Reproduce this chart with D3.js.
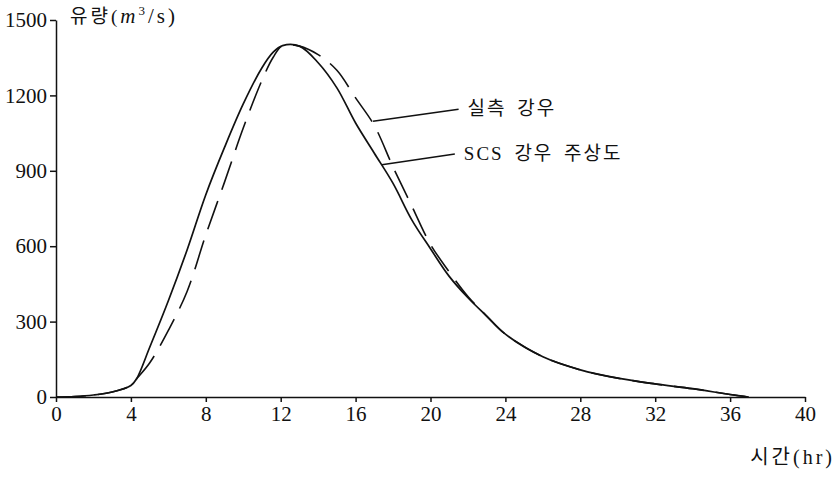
<!DOCTYPE html>
<html>
<head>
<meta charset="utf-8">
<script src="https://cdn.jsdelivr.net/npm/d3@7"></script>
<style>
  body { margin: 0; background: #fff; }
  .axis path, .axis line { stroke: #111; stroke-width: 1.5; }
  .axis text { font-family: "Liberation Serif", serif; font-size: 21px; fill: #111; }
</style>
</head>
<body>
<svg id="chart"></svg>
<script>
// time (hr) and discharge (m3/s)
var hours = [0, 1, 2, 3, 4, 4.3, 5, 6, 7, 8, 9, 10, 11, 11.6, 12.1, 13, 14, 15, 16, 17, 18, 19, 20, 21, 22, 23, 24, 26, 28, 30, 32, 34, 36, 37];
// SCS 강우 주상도 (solid)
var scsFlow = [0, 2, 8, 20, 46, 72, 197, 383, 585, 805, 993, 1166, 1310, 1372, 1398, 1396, 1330, 1230, 1090, 970, 850, 705, 590, 480, 395, 322, 250, 160, 108, 75, 52, 33, 10, 0];
// 실측 강우 (dashed)
var obsFlow = [0, 2, 8, 20, 46, 72, 135, 265, 420, 645, 855, 1070, 1260, 1352, 1398, 1396, 1362, 1300, 1190, 1080, 915, 760, 607, 498, 400, 322, 250, 160, 108, 75, 52, 33, 10, 0];

var xTicks = [0, 4, 8, 12, 16, 20, 24, 28, 32, 36, 40];
var yTicks = [0, 300, 600, 900, 1200, 1500];

// leader lines: [start hr, start Q, end hr, end Q, label]
var notes = [
  [16.93, 1097, 21.5, 1145, "실측 강우"],
  [17.4, 924, 21.3, 967, "SCS 강우 주상도"]
];

var width = 840, height = 477;
var svg = d3.select("#chart").attr("width", width).attr("height", height);

var x = d3.scaleLinear().domain([0, 40]).range([56, 805]);
var y = d3.scaleLinear().domain([0, 1500]).range([397, 20]);

var xaxis = d3.axisBottom(x).tickValues(xTicks).tickSize(5).tickSizeOuter(0).tickPadding(4);
svg.append("g").attr("class", "axis")
  .attr("transform", "translate(0," + y(0) + ")")
  .call(xaxis);

var yaxis = d3.axisLeft(y).tickValues(yTicks).tickFormat(d3.format("d"))
  .tickSize(6).tickSizeOuter(0).tickPadding(3);
svg.append("g").attr("class", "axis")
  .attr("transform", "translate(" + x(0) + ",0)")
  .call(yaxis);

var line = d3.line()
  .x(function (d, i) { return x(hours[i]); })
  .y(function (d) { return y(d); })
  .curve(d3.curveCatmullRom.alpha(0.5));

svg.append("path")
  .attr("fill", "none")
  .attr("stroke", "#111")
  .attr("stroke-width", 1.7)
  .attr("d", line(scsFlow));

svg.append("path")
  .attr("fill", "none")
  .attr("stroke", "#111")
  .attr("stroke-width", 1.6)
  .attr("stroke-dasharray", "30,12")
  .attr("d", line(obsFlow));

notes.forEach(function (n) {
  svg.append("line")
    .attr("x1", x(n[0])).attr("y1", y(n[1]))
    .attr("x2", x(n[2])).attr("y2", y(n[3]))
    .attr("stroke", "#111").attr("stroke-width", 1.6);
  svg.append("text")
    .attr("x", x(n[2]) + 9)
    .attr("y", y(n[3]) + 6)
    .style("font-family", "'Liberation Serif', 'Noto Sans CJK KR'")
    .style("font-size", "19px")
    .style("letter-spacing", "2px")
    .style("word-spacing", "4px")
    .attr("fill", "#111")
    .text(n[4]);
});

// y axis title
var yt = svg.append("text")
  .attr("x", 70).attr("y", 23)
  .attr("fill", "#111")
  .style("font-family", "'Liberation Serif', 'Noto Sans CJK KR'")
  .style("font-size", "19px")
  .style("letter-spacing", "3px");
yt.append("tspan").text("유량(");
yt.append("tspan").style("font-style", "italic").style("font-size", "21px").text("m");
yt.append("tspan").attr("dy", -8).style("font-size", "13px").text("3");
yt.append("tspan").attr("dy", 8).style("font-size", "21px").text("/s)");

// x axis title
svg.append("text")
  .attr("x", 835).attr("y", 464)
  .attr("text-anchor", "end")
  .attr("fill", "#111")
  .style("font-family", "'Liberation Serif', 'Noto Sans CJK KR'")
  .style("font-size", "20px")
  .style("letter-spacing", "3px")
  .text("시간(hr)");
</script>
</body>
</html>
